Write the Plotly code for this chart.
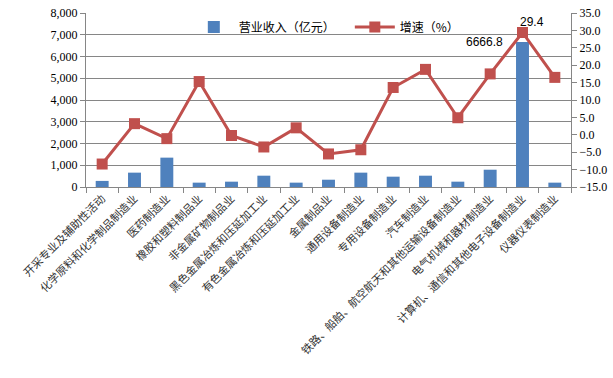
import plotly.graph_objects as go

categories = [
    "开采专业及辅助性活动",
    "化学原料和化学制品制造业",
    "医药制造业",
    "橡胶和塑料制品业",
    "非金属矿物制品业",
    "黑色金属冶炼和压延加工业",
    "有色金属冶炼和压延加工业",
    "金属制品业",
    "通用设备制造业",
    "专用设备制造业",
    "汽车制造业",
    "铁路、船舶、航空航天和其他运输设备制造业",
    "电气机械和器材制造业",
    "计算机、通信和其他电子设备制造业",
    "仪器仪表制造业",
]
revenue = [280, 660, 1350, 200, 245, 520, 200, 335, 660, 475, 520, 245, 795, 6666.8, 200]
growth = [-8.4, 3.2, -1.1, 15.3, -0.2, -3.5, 2.0, -5.5, -4.3, 13.6, 18.8, 4.9, 17.5, 29.4, 16.5]

left_ticks = list(range(0, 8001, 1000))
right_ticks = list(range(-15, 36, 5))

BLUE = "#4F81BD"
RED = "#C0504D"
CJK = "Noto Sans CJK SC"
NUM = "Liberation Serif"

fig = go.Figure()
fig.add_trace(go.Bar(
    x=categories, y=revenue, name="营业收入（亿元）",
    marker=dict(color=BLUE, line=dict(width=0)),
    yaxis="y",
))
fig.add_trace(go.Scatter(
    x=categories, y=growth, name="增速（%）",
    mode="lines+markers",
    line=dict(color=RED, width=3),
    marker=dict(symbol="square", size=11, color=RED),
    yaxis="y2",
))

i_max = revenue.index(max(revenue))
fig.add_annotation(x=categories[i_max], y=revenue[i_max], xref="x", yref="y",
                   text=f"{revenue[i_max]:.1f}", showarrow=False,
                   xanchor="right", yanchor="middle", xshift=-18, yshift=0,
                   font=dict(family="Liberation Sans", size=12, color="#000"))
g_max = growth.index(max(growth))
fig.add_annotation(x=categories[g_max], y=growth[g_max], xref="x", yref="y2",
                   text=f"{growth[g_max]:.1f}", showarrow=False,
                   xanchor="center", yanchor="middle", xshift=9, yshift=10,
                   font=dict(family="Liberation Sans", size=12, color="#000"))

fig.update_layout(
    width=613, height=378,
    margin=dict(l=86, r=42, t=13, b=191, autoexpand=False),
    paper_bgcolor="white", plot_bgcolor="white",
    bargap=0.6,
    showlegend=True,
    legend=dict(orientation="h", x=0.212, y=0.92, xanchor="left", yanchor="middle",
                bgcolor="rgba(0,0,0,0)", font=dict(family=CJK, size=12, color="#000"),
                entrywidth=106, entrywidthmode="pixels", itemwidth=40),
    xaxis=dict(
        range=[-0.5, len(categories) - 0.5],
        tickangle=-45, tickfont=dict(family=CJK, size=11, color="#333"),
        showline=True, linecolor="#868686", linewidth=1,
        ticks="outside", ticklen=5, tickcolor="#868686",
        showgrid=False, tickson="boundaries",
    ),
    yaxis=dict(
        range=[0, 8000], tickvals=left_ticks, tickformat=",",
        tickfont=dict(family=NUM, size=12, color="#000"),
        showline=True, linecolor="#868686", linewidth=1,
        ticks="outside", ticklen=5, tickcolor="#868686",
        showgrid=True, gridcolor="#868686", gridwidth=1,
        zeroline=False, ticklabeloverflow="allow",
    ),
    yaxis2=dict(
        range=[-15, 35], tickvals=right_ticks, tickformat=".1f",
        overlaying="y", side="right",
        tickfont=dict(family=NUM, size=12, color="#000"),
        showline=True, linecolor="#868686", linewidth=1,
        ticks="outside", ticklen=5, tickcolor="#868686",
        showgrid=False, zeroline=False, ticklabeloverflow="allow",
    ),
)

fig.write_html(
    "out.html",
    config={"displayModeBar": False},
    post_script="document.body.style.margin='0';document.body.style.overflow='hidden';",
)
